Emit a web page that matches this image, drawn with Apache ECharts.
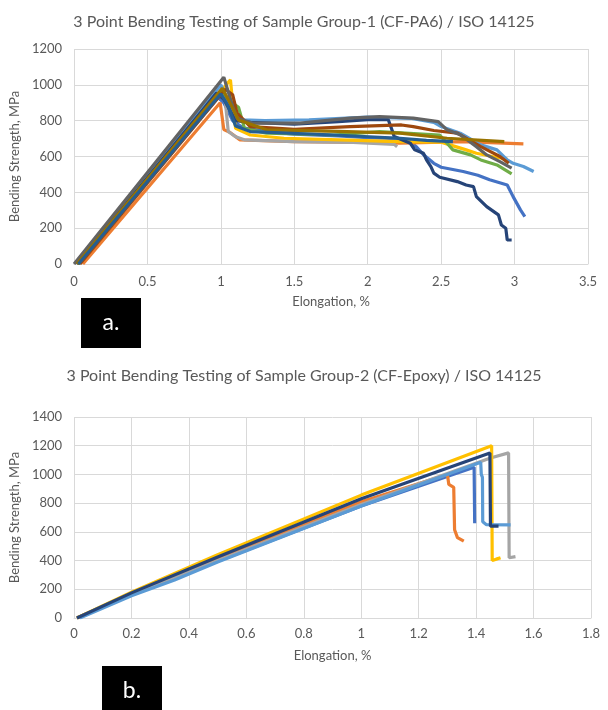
<!DOCTYPE html>
<html>
<head>
<meta charset="utf-8">
<script src="https://cdn.jsdelivr.net/npm/echarts@6/dist/echarts.min.js"></script>
<style>
  html, body { margin: 0; padding: 0; background: #fff; }
  #chart { width: 608px; height: 710px; }
</style>
</head>
<body>
<div id="chart"></div>
<script>
// Group-1 (CF-PA6) curves: [elongation %, bending strength MPa]
const pa6Blue = [[0.03,0],[0.98,930],[1.02,900],[1.08,800],[1.15,760],[1.3,740],[1.5,725],[1.8,715],[2.0,705],[2.2,700],[2.28,690],[2.33,655],[2.38,610],[2.45,562],[2.5,540],[2.65,516],[2.75,495],[2.83,470],[2.95,441],[2.99,376],[3.04,302],[3.07,264]];
const pa6Orange = [[0.06,0],[0.995,900],[1.02,750],[1.06,735],[1.13,693],[1.5,683],[2.0,678],[2.22,674],[2.65,683],[3.06,670]];
const pa6Gray = [[0.02,0],[1.02,990],[1.05,740],[1.1,710],[1.16,693],[1.5,683],[1.9,678],[2.18,668],[2.2,655]];
const pa6Yellow = [[0.03,0],[1.065,1028],[1.08,900],[1.1,758],[1.2,720],[1.43,702],[1.81,693],[2.22,683],[2.5,680],[2.56,665],[2.67,637],[2.74,618],[2.85,600],[2.95,585]];
const pa6LightBlue = [[0.02,0],[1.0,1000],[1.04,930],[1.08,840],[1.15,805],[1.3,800],[1.6,805],[2.0,820],[2.3,812],[2.45,790],[2.5,767],[2.63,730],[2.77,665],[2.88,637],[2.95,581],[2.99,562],[3.06,544],[3.13,516]];
const pa6Green = [[0.03,0],[1.0,960],[1.06,910],[1.12,875],[1.16,758],[1.31,730],[1.77,720],[2.08,739],[2.49,720],[2.54,674],[2.58,637],[2.7,609],[2.77,581],[2.88,553],[2.98,503]];
const pa6Navy = [[0.02,0],[0.97,955],[1.02,920],[1.06,860],[1.1,800],[1.2,790],[1.5,780],[1.8,795],[2.0,805],[2.14,805],[2.16,760],[2.18,712],[2.29,674],[2.32,637],[2.38,618],[2.4,581],[2.43,544],[2.45,507],[2.49,484],[2.61,460],[2.67,441],[2.72,432],[2.74,376],[2.81,320],[2.89,274],[2.91,218],[2.94,200],[2.95,134],[2.98,134]];
const pa6Brown = [[0.04,0],[1.03,975],[1.08,945],[1.11,842],[1.2,767],[1.5,752],[1.88,767],[2.23,776],[2.31,767],[2.45,745],[2.61,730],[2.77,655],[2.9,600],[2.96,562]];
const pa6DarkGray = [[0.0,0],[1.02,1043],[1.08,879],[1.11,814],[1.22,786],[1.54,786],[1.88,814],[2.08,823],[2.31,814],[2.48,795],[2.54,749],[2.63,721],[2.74,655],[2.81,609],[2.9,571],[2.98,535]];
const pa6Olive = [[0.02,0],[1.01,981],[1.06,900],[1.12,804],[1.31,749],[1.8,740],[2.22,730],[2.54,702],[2.93,683]];
const pa6MidBlue = [[0.03,0],[1.0,950],[1.05,880],[1.1,770],[1.2,739],[1.77,720],[2.22,702],[2.4,690],[2.58,683]];

// Group-2 (CF-Epoxy) curves
const epBlue = [[0.01,0],[0.2,160],[0.5,395],[1.0,780],[1.393,1050],[1.395,660]];
const epOrange = [[0.01,0],[0.2,170],[0.5,415],[1.0,810],[1.3,1000],[1.305,930],[1.322,910],[1.325,615],[1.335,560],[1.357,535]];
const epGray = [[0.01,0],[0.2,165],[0.5,400],[1.0,790],[1.45,1115],[1.513,1150],[1.515,420],[1.537,428]];
const epYellow = [[0.01,0],[0.2,180],[0.5,440],[1.0,856],[1.454,1200],[1.456,400],[1.47,410],[1.485,420]];
const epLightBlue = [[0.02,0],[0.2,155],[0.35,265],[0.5,390],[1.0,780],[1.416,1085],[1.418,1000],[1.422,980],[1.423,670],[1.436,650],[1.52,648]];
const epNavy = [[0.01,0],[0.2,175],[0.5,425],[1.0,830],[1.448,1150],[1.45,640],[1.478,640]];

const pa6Series = [
  ['#4472C4', pa6Blue], ['#ED7D31', pa6Orange], ['#A5A5A5', pa6Gray], ['#FFC000', pa6Yellow],
  ['#5B9BD5', pa6LightBlue], ['#70AD47', pa6Green], ['#264478', pa6Navy], ['#9E480E', pa6Brown],
  ['#636363', pa6DarkGray], ['#997300', pa6Olive], ['#255E91', pa6MidBlue]
];
const epSeries = [
  ['#4472C4', epBlue], ['#ED7D31', epOrange], ['#A5A5A5', epGray], ['#FFC000', epYellow],
  ['#5B9BD5', epLightBlue], ['#264478', epNavy]
];

const FONT = 'Lato';
const TXT = '#595959';
const GRID = '#D9D9D9';

function xAxisOf(idx, max, interval, margin) {
  return {
    gridIndex: idx, type: 'value', min: 0, max: max, interval: interval,
    name: 'Elongation, %', nameLocation: 'middle', nameGap: 31,
    nameTextStyle: { color: TXT, fontSize: 13, fontFamily: FONT },
    axisLine: { show: true, lineStyle: { color: GRID } },
    axisTick: { show: false },
    axisLabel: { color: TXT, fontSize: 13, fontFamily: FONT, margin: margin },
    splitLine: { show: true, lineStyle: { color: GRID } }
  };
}
function yAxisOf(idx, max) {
  return {
    gridIndex: idx, type: 'value', min: 0, max: max, interval: 200,
    name: 'Bending Strength, MPa', nameLocation: 'middle', nameGap: 45,
    nameTextStyle: { color: TXT, fontSize: 13, fontFamily: FONT },
    axisLine: { show: false },
    axisTick: { show: false },
    axisLabel: { color: TXT, fontSize: 13, fontFamily: FONT, margin: 12,
      formatter: function (v) { return String(v); } },
    splitLine: { show: true, lineStyle: { color: GRID } }
  };
}
function lines(list, idx) {
  return list.map(function (s) {
    return {
      type: 'line', xAxisIndex: idx, yAxisIndex: idx, data: s[1],
      showSymbol: false, symbol: 'none',
      lineStyle: { color: s[0], width: 3.2 }, itemStyle: { color: s[0] }
    };
  });
}

const myChart = echarts.init(document.getElementById('chart'));
const option = {
  animation: false,
  backgroundColor: '#fff',
  title: [
    { text: '3 Point Bending Testing of Sample Group-1 (CF-PA6) / ISO 14125', left: 'center', top: 9,
      textStyle: { color: TXT, fontSize: 16, fontWeight: 'normal', fontFamily: FONT } },
    { text: '3 Point Bending Testing of Sample Group-2 (CF-Epoxy) / ISO 14125', left: 'center', top: 363,
      textStyle: { color: TXT, fontSize: 16, fontWeight: 'normal', fontFamily: FONT } }
  ],
  grid: [
    { left: 73, right: 20, top: 49, height: 215 },
    { left: 73, right: 17, top: 417, height: 201 }
  ],
  xAxis: [xAxisOf(0, 3.5, 0.5, 11), xAxisOf(1, 1.8, 0.2, 9)],
  yAxis: [yAxisOf(0, 1200), yAxisOf(1, 1400)],
  series: lines(pa6Series, 0).concat(lines(epSeries, 1)),
  graphic: [
    { type: 'rect', shape: { x: 81, y: 298, width: 60, height: 50 }, style: { fill: '#000' } },
    { type: 'text', x: 111, y: 323, style: { text: 'a.', fill: '#fff', font: '23px Lato', align: 'center', verticalAlign: 'middle' } },
    { type: 'rect', shape: { x: 102, y: 666, width: 60, height: 50 }, style: { fill: '#000' } },
    { type: 'text', x: 132, y: 691, style: { text: 'b.', fill: '#fff', font: '23px Lato', align: 'center', verticalAlign: 'middle' } }
  ]
};
myChart.setOption(option);
</script>
</body>
</html>
